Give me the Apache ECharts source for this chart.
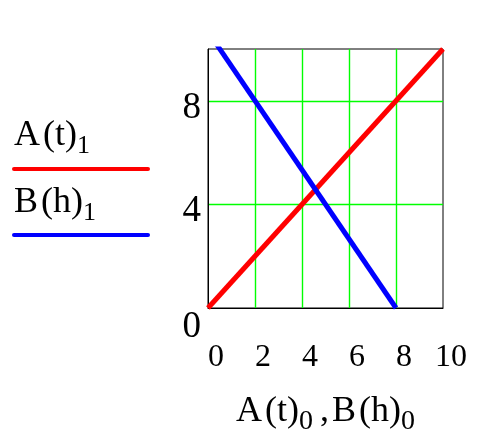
<!DOCTYPE html>
<html>
<head>
<meta charset="utf-8">
<script src="https://cdn.jsdelivr.net/npm/echarts@6/dist/echarts.min.js"></script>
<style>
html,body{margin:0;padding:0;background:#fff;}
#c{width:497px;height:441px;}
</style>
</head>
<body>
<div id="c"></div>
<script>
// Data
var seriesA = [[0, 0], [10, 10]];          // A(t)_1 vs A(t)_0
var seriesB = [[0, 10.67], [8, 0]];        // B(h)_1 vs B(h)_0
var xTicks = [0, 2, 4, 6, 8, 10];
var yTicks = [0, 4, 8];

var FONT = '"Liberation Serif", "Times New Roman", serif';
var chart = echarts.init(document.getElementById('c'), null, {renderer: 'canvas'});

var option = {
  backgroundColor: '#fff',
  animation: false,
  grid: {left: 208, right: 54, top: 49, bottom: 127, show: true, borderColor: '#000', borderWidth: 1, backgroundColor: 'transparent'},
  xAxis: {
    type: 'value', min: 0, max: 10, interval: 2,
    axisLine: {show: true, lineStyle: {color: '#000', width: 1}},
    axisTick: {show: false},
    axisLabel: {fontFamily: FONT, fontSize: 32, color: '#000', margin: 34, padding: [0, 0, 0, 16],
      formatter: function (v) { return xTicks.indexOf(v) >= 0 ? String(v) : ''; }},
    splitLine: {show: true, showMinLine: false, showMaxLine: false, lineStyle: {color: '#00ff00', width: 1.4}},
    name: 'A\u200a(t){s|0}\u2009,\u200aB\u200a(h){s|0}',
    nameLocation: 'middle', nameGap: 80,
    nameTextStyle: {fontFamily: FONT, fontSize: 36, color: '#000',
      rich: {s: {fontFamily: FONT, fontSize: 28, color: '#000', padding: [20, 0, 0, 0]}}}
  },
  yAxis: {
    type: 'value', min: 0, max: 10, interval: 4,
    axisLine: {show: true, lineStyle: {color: '#000', width: 1}},
    axisTick: {show: false},
    axisLabel: {color: '#000', margin: 7, showMaxLabel: false,
      formatter: function (v) {
        if (yTicks.indexOf(v) < 0) return '';
        return v === 0 ? '{z|0}' : '{d|' + v + '}';
      },
      rich: {
        d: {fontFamily: FONT, fontSize: 37, color: '#000', padding: [14, 0, 0, 0]},
        z: {fontFamily: FONT, fontSize: 37, color: '#000', padding: [38, 0, 0, 0]}
      }},
    splitLine: {show: true, showMinLine: false, showMaxLine: false, lineStyle: {color: '#00ff00', width: 1.4}}
  },
  graphic: [
    {type: 'text', left: 14, top: 118, style: {
      text: 'A\u200a(t){s|1}', fontFamily: FONT, fontSize: 36, fill: '#000',
      rich: {s: {fontFamily: FONT, fontSize: 26, fill: '#000', padding: [20, 0, 0, 0]}}}},
    {type: 'line', shape: {x1: 14, y1: 169, x2: 148, y2: 169}, style: {stroke: '#ff0000', lineWidth: 4, lineCap: 'round'}},
    {type: 'text', left: 14, top: 185, style: {
      text: 'B\u200a(h){s|1}', fontFamily: FONT, fontSize: 36, fill: '#000',
      rich: {s: {fontFamily: FONT, fontSize: 26, fill: '#000', padding: [20, 0, 0, 0]}}}},
    {type: 'line', shape: {x1: 14, y1: 235, x2: 148, y2: 235}, style: {stroke: '#0000ff', lineWidth: 4, lineCap: 'round'}}
  ],
  series: [
    {type: 'line', data: seriesA, showSymbol: false, lineStyle: {color: '#ff0000', width: 5}, clip: true},
    {type: 'line', data: seriesB, showSymbol: false, lineStyle: {color: '#0000ff', width: 5}, clip: true}
  ]
};
chart.setOption(option);
</script>
</body>
</html>
